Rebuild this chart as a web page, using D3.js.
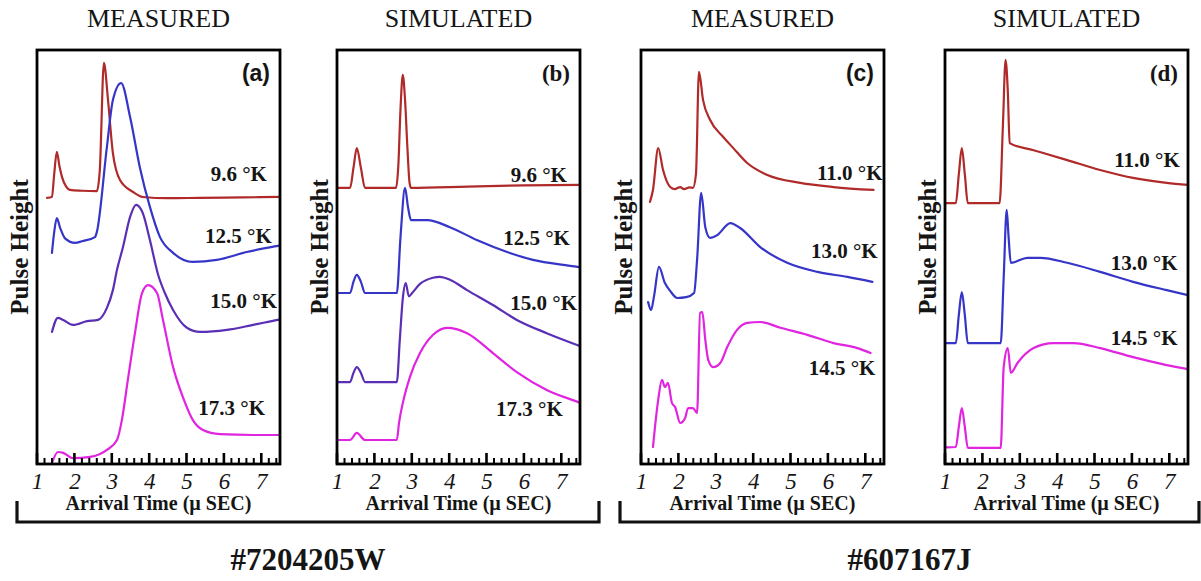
<!DOCTYPE html>
<html>
<head>
<meta charset="utf-8">
<script src="https://cdn.jsdelivr.net/npm/d3@7"></script>
<style>
  body { margin: 0; background: #fff; }
  svg { display: block; }
</style>
</head>
<body>
<svg id="chart" width="1201" height="581"></svg>
<script>
// ---------- data ----------
const headings = ["MEASURED", "SIMULATED", "MEASURED", "SIMULATED"];
const panelTags = ["(a)", "(b)", "(c)", "(d)"];
const sampleNames = ["#7204205W", "#607167J"];
const xTicks = [1, 2, 3, 4, 5, 6, 7];
const xLabel = "Arrival Time (\u00b5 SEC)";
const yLabel = "Pulse Height";

const tempsAB = ["9.6 \u00b0K", "12.5 \u00b0K", "15.0 \u00b0K", "17.3 \u00b0K"];
const tempsCD = ["11.0 \u00b0K", "13.0 \u00b0K", "14.5 \u00b0K"];

// pulse shapes: [arrival time (µs), pulse height (relative, offset per trace)]
// sample #7204205W, measured
const measA_96 = [[1.27,64.3],[1.40,64.5],[1.46,70],[1.53,75.4],[1.60,72],[1.67,69.3],[1.78,67],[1.88,66.2],[2.2,66.0],[2.60,65.9],[2.68,71.0],[2.79,96.9],[2.90,87.9],[3.03,75.1],[3.22,68.6],[3.57,65.7],[3.83,64.5],[4.5,64.2],[5.36,64.3],[6.5,64.4],[7.50,64.5]];
const measA_125 = [[1.40,51.0],[1.46,56],[1.53,59.4],[1.62,57],[1.75,54.5],[2.02,53.4],[2.2,53.8],[2.55,54.8],[2.60,56],[2.87,76.6],[3.03,87.9],[3.25,92.0],[3.49,83.8],[3.75,71.7],[4.02,62.1],[4.29,54.8],[4.64,51.0],[5.17,48.8],[5.81,49.3],[6.61,51.2],[7.44,52.7],[7.5,52.8]];
const measA_150 = [[1.40,31.9],[1.56,35.3],[1.70,34.8],[1.96,33.6],[2.34,34.5],[2.63,34.8],[2.87,37.7],[3.03,42.0],[3.14,46.9],[3.30,52.4],[3.49,59.7],[3.65,62.6],[3.83,60.6],[4.02,54.1],[4.24,45.7],[4.42,41.3],[4.64,37.2],[5.01,32.9],[5.36,31.9],[6.08,32.4],[6.78,33.6],[7.44,34.8],[7.5,34.9]];
const measA_173 = [[1.40,0.2],[1.56,2.9],[1.70,2.7],[1.96,1.4],[2.42,1.7],[2.87,3.4],[3.14,5.8],[3.27,10.6],[3.43,20.3],[3.62,31.6],[3.81,41.3],[3.97,43.2],[4.21,41.3],[4.37,34.8],[4.64,23.4],[4.90,16.2],[5.17,10.6],[5.44,8.2],[5.89,7.2],[6.78,7.0],[7.5,7.0]];

// sample #7204205W, simulated
const simB_96 = [[1.0,66.7],[1.35,66.7],[1.44,71.5],[1.53,76.3],[1.64,71.5],[1.75,66.7],[2.58,66.7],[2.64,72],[2.70,86],[2.76,94.0],[2.82,88],[2.88,77],[2.94,68],[2.98,66.7],[4.5,67.0],[6.0,67.3],[7.5,67.4]];
const simB_125 = [[1.0,41.3],[1.35,41.3],[1.44,44],[1.53,45.7],[1.64,44],[1.75,41.3],[2.60,41.3],[2.70,55],[2.82,66.7],[2.90,62],[2.98,58.9],[3.41,58.9],[4.02,57.2],[4.74,54.1],[5.55,51.2],[6.24,49.3],[7.44,47.6],[7.5,47.5]];
const simB_150 = [[1.0,19.8],[1.35,19.8],[1.44,22],[1.53,23.4],[1.64,22],[1.75,19.8],[2.60,19.8],[2.68,30],[2.76,40],[2.84,43.7],[2.92,40.5],[3.01,41.3],[3.22,43.5],[3.57,45.0],[3.75,45.2],[4.02,44.5],[4.48,42.0],[5.17,38.4],[5.81,34.8],[6.61,31.6],[7.44,28.7],[7.5,28.5]];
const simB_173 = [[1.0,5.8],[1.35,5.8],[1.53,7.5],[1.75,5.8],[2.60,5.8],[2.66,10],[2.76,14.7],[2.95,21.0],[3.22,26.8],[3.57,31.2],[3.94,32.9],[4.48,31.6],[5.17,26.8],[5.81,22.2],[6.61,17.9],[7.44,15.0],[7.5,14.8]];

// sample #607167J, measured
const measC_110 = [[1.24,63.3],[1.32,66.2],[1.46,76.3],[1.59,71.0],[1.78,66.9],[1.9,66.4],[2.05,66.9],[2.15,66.4],[2.3,66.8],[2.39,66.7],[2.47,70],[2.55,94.7],[2.66,87.9],[2.85,83.1],[3.20,79.0],[3.47,76.3],[3.84,72.7],[4.38,69.8],[5.26,67.9],[6.15,66.9],[7.22,66.2]];
const measC_130 = [[1.19,39.1],[1.27,37.2],[1.35,40.6],[1.48,47.6],[1.64,43.7],[1.78,41.8],[1.97,40.1],[2.21,40.3],[2.42,41.3],[2.50,49.3],[2.61,65.5],[2.72,57.2],[2.85,54.6],[3.04,55.3],[3.39,58.2],[3.65,57.0],[4.19,52.4],[4.91,48.6],[5.72,46.4],[6.52,45.2],[7.19,44.0]];
const measC_145 = [[1.32,4.1],[1.46,15.5],[1.56,20.3],[1.64,18.6],[1.72,19.6],[1.83,14.7],[1.91,13.8],[2.05,9.9],[2.18,11.1],[2.26,13.5],[2.39,13.5],[2.50,12.3],[2.58,36.5],[2.64,36.7],[2.72,30.0],[2.80,25.1],[2.93,23.4],[3.12,24.4],[3.31,28.3],[3.57,32.4],[3.84,34.1],[4.19,34.3],[4.73,32.9],[5.45,31.2],[6.15,29.2],[6.79,28.0],[7.14,26.8]];

// sample #607167J, simulated
const simD_110 = [[1.03,63.0],[1.29,63.0],[1.37,70],[1.45,76.3],[1.53,70],[1.61,63.0],[2.46,63.0],[2.55,82],[2.62,97.6],[2.68,90],[2.73,77.5],[3.37,75.8],[4.27,73.4],[5.15,71.0],[6.03,69.1],[6.93,67.9],[7.5,67.4]];
const simD_130 = [[1.03,29.2],[1.29,29.2],[1.37,36],[1.45,41.5],[1.53,36],[1.61,29.2],[2.49,29.2],[2.57,45],[2.65,61.4],[2.70,55],[2.76,48.6],[3.21,49.8],[3.55,49.8],[4.27,48.6],[5.15,46.4],[6.03,44.0],[6.93,42.0],[7.5,40.8]];
const simD_145 = [[1.03,4.0],[1.29,4.1],[1.37,9],[1.45,13.5],[1.53,9],[1.61,3.9],[2.49,3.9],[2.57,23.4],[2.68,28.0],[2.76,22.0],[2.94,24.4],[3.37,28.0],[3.90,29.2],[4.43,29.2],[5.15,28.0],[6.03,25.8],[6.93,23.9],[7.5,22.9]];

// ---------- styling & layout ----------
const RED = "#b02a2a", BLUE = "#3535c8", PURPLE = "#5a2fb5", MAGENTA = "#e024e0";
const INK = "#151515";
const serif = "'Liberation Serif','Times New Roman',serif";
const sans = "'Liberation Sans',Arial,sans-serif";

const panels = [
  { left: 37,  heading: headings[0], tag: panelTags[0], tagFont: sans,
    traces: [[measA_96, RED], [measA_125, BLUE], [measA_150, PURPLE], [measA_173, MAGENTA]],
    labels: [[tempsAB[0], 7.15, 68.4], [tempsAB[1], 7.28, 53.4], [tempsAB[2], 7.42, 37.7], [tempsAB[3], 7.10, 11.8]] },
  { left: 337, heading: headings[1], tag: panelTags[1], tagFont: serif,
    traces: [[simB_96, RED], [simB_125, BLUE], [simB_150, PURPLE], [simB_173, MAGENTA]],
    labels: [[tempsAB[0], 7.15, 68.1], [tempsAB[1], 7.23, 52.9], [tempsAB[2], 7.42, 37.2], [tempsAB[3], 7.04, 11.6]] },
  { left: 641, heading: headings[2], tag: panelTags[2], tagFont: sans,
    traces: [[measC_110, RED], [measC_130, BLUE], [measC_145, MAGENTA]],
    labels: [[tempsCD[0], 7.46, 68.6], [tempsCD[1], 7.33, 49.8], [tempsCD[2], 7.27, 21.5]] },
  { left: 945, heading: headings[3], tag: panelTags[3], tagFont: serif,
    traces: [[simD_110, RED], [simD_130, BLUE], [simD_145, MAGENTA]],
    labels: [[tempsCD[0], 7.28, 71.7], [tempsCD[1], 7.22, 46.9], [tempsCD[2], 7.22, 28.7]] }
];

const plotTop = 50, W = 243, H = 414;
const svg = d3.select("#chart");
svg.append("rect").attr("width", 1201).attr("height", 581).attr("fill", "#fff");

panels.forEach((p, pi) => {
  const g = svg.append("g").attr("transform", `translate(${p.left},${plotTop})`);
  const x = d3.scaleLinear().domain([1, 7.5]).range([0, W]);
  const y = d3.scaleLinear().domain([0, 100]).range([H, 0]);

  g.append("defs").append("clipPath").attr("id", "clip" + pi)
    .append("rect").attr("width", W).attr("height", H);

  // traces
  const line = d3.line().x(d => x(d[0])).y(d => y(d[1])).curve(d3.curveMonotoneX);
  const plot = g.append("g").attr("clip-path", `url(#clip${pi})`);
  p.traces.forEach(([data, color]) => {
    plot.append("path").datum(data).attr("d", line)
      .attr("fill", "none").attr("stroke", color).attr("stroke-width", 2.2)
      .attr("stroke-linejoin", "round").attr("stroke-linecap", "round");
  });

  // frame
  g.append("rect").attr("width", W).attr("height", H)
    .attr("fill", "none").attr("stroke", "#000").attr("stroke-width", 2.8);

  // inward tick marks along the time axis: minor every 0.2 µs, major every 1 µs
  const minor = d3.range(1.2, 7.45, 0.2).filter(v => Math.abs(v - Math.round(v)) > 0.05);
  g.append("path")
    .attr("d", minor.map(v => `M${x(v).toFixed(1)},${H}V${H - 6}`).join(""))
    .attr("fill", "none").attr("stroke", "#000").attr("stroke-width", 2);
  g.append("path")
    .attr("d", xTicks.map(v => `M${x(v).toFixed(1)},${H}V${H - 11}`).join(""))
    .attr("fill", "none").attr("stroke", "#000").attr("stroke-width", 2.6);

  // tick labels from the axis generator
  const ax = g.append("g").attr("transform", `translate(0,${H})`)
    .call(d3.axisBottom(x).tickValues(xTicks).tickSize(0).tickPadding(9).tickFormat(d3.format("d")));
  ax.select(".domain").remove();
  ax.selectAll("text").attr("fill", INK).style("font-family", serif)
    .style("font-style", "italic").style("font-size", "23px");

  // heading
  svg.append("text").attr("x", p.left + W / 2).attr("y", 27).attr("text-anchor", "middle")
    .style("font-family", serif).style("font-size", "26px").attr("fill", INK).text(p.heading);

  // panel tag
  g.append("text").attr("x", W - 10).attr("y", 31).attr("text-anchor", "end")
    .style("font-family", p.tagFont).style("font-weight", "bold").style("font-size", "23px")
    .attr("fill", INK).text(p.tag);

  // temperature labels
  p.labels.forEach(([t, lx, ly]) => {
    g.append("text").attr("x", x(lx)).attr("y", y(ly)).attr("text-anchor", "end")
      .style("font-family", serif).style("font-weight", "bold").style("font-size", "21px")
      .attr("fill", INK).text(t);
  });

  // axis titles
  g.append("text").attr("x", W / 2).attr("y", H + 46).attr("text-anchor", "middle")
    .style("font-family", serif).style("font-weight", "bold").style("font-size", "20px")
    .attr("fill", INK).text(xLabel);
  g.append("text").attr("transform", `translate(-9,${H / 2 - 10}) rotate(-90)`).attr("text-anchor", "middle")
    .style("font-family", serif).style("font-weight", "bold").style("font-size", "25px")
    .attr("fill", INK).text(yLabel);
});

// brackets grouping the two samples
const brackets = [[17, 599], [620, 1199]];
brackets.forEach(([x0, x1], i) => {
  svg.append("path").attr("d", `M${x0},501V522H${x1}V501`)
    .attr("fill", "none").attr("stroke", "#111").attr("stroke-width", 3.2);
  svg.append("text").attr("x", (x0 + x1) / 2).attr("y", 570).attr("text-anchor", "middle")
    .style("font-family", serif).style("font-weight", "bold").style("font-size", "31px")
    .attr("fill", INK).text(sampleNames[i]);
});
</script>
</body>
</html>
